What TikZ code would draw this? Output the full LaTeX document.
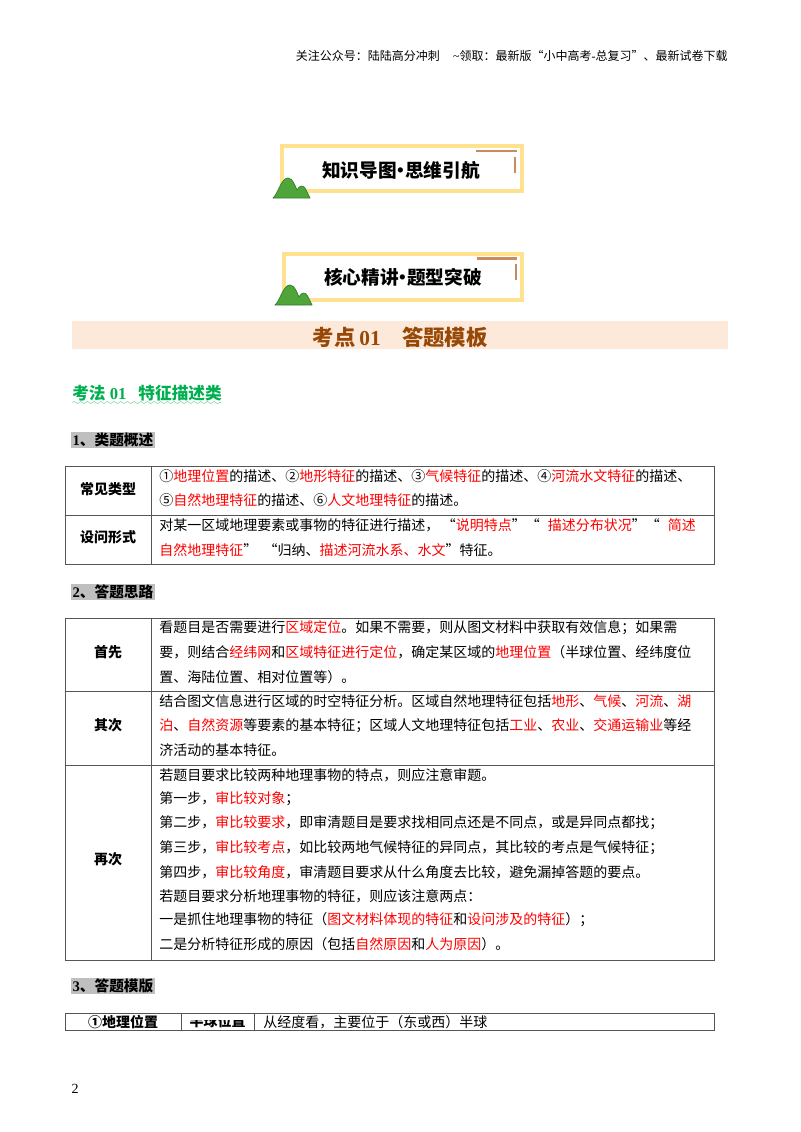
\documentclass[tikz,border=0pt]{standalone}
\usepackage{fontspec}
\usepackage{xcolor}
\setmainfont{Noto Sans CJK SC}
\newfontfamily\latfont{Liberation Serif}
\usetikzlibrary{decorations.pathmorphing}
\definecolor{bannerline}{HTML}{FFE28F}
\definecolor{banneraccent}{HTML}{C98A5E}
\definecolor{hillgreen}{HTML}{4FA53A}
\definecolor{hilldark}{HTML}{2F7D2A}
\definecolor{bandfill}{HTML}{FDE9D9}
\definecolor{bandtext}{HTML}{984806}
\definecolor{headgreen}{HTML}{00B050}
\definecolor{tableline}{HTML}{555555}
\newcommand{\hl}[1]{\textcolor{red}{#1}}
\newcommand{\fsize}[1]{\fontsize{#1}{#1}\selectfont}
\newcommand{\tightdot}{\kern-0.27em·\kern-0.27em}
\newcommand{\hillpair}[2]{%
        \begin{scope}[shift={(#1,#2)}]
            \fill[hillgreen, draw=hilldark, line width=0.5pt] (0,0) .. controls (5,-4) and (8,-20) .. (15,-20)
                .. controls (20,-20) and (22,-12) .. (24,-8)
                .. controls (26,-11) and (27,-12) .. (29,-12)
                .. controls (32,-12) and (34,-6) .. (37,0) -- cycle;
        \end{scope}}
\tikzset{
        rowtext/.style={anchor=west, inner sep=0pt, font=\fsize{10.5}},
        rowhead/.style={inner sep=0pt, font=\fsize{10.5}\bfseries},
        sechead/.style={anchor=west, inner sep=1pt, fill=black!25, font=\fsize{11}\bfseries},
        tablerule/.style={draw=tableline, line width=0.7pt},
        bannerbox/.style={draw=bannerline, line width=3pt, fill=white},
        bannertext/.style={inner sep=0pt, font=\fsize{14}\bfseries},
        accent/.style={draw=banneraccent, line width=2pt}
}
\begin{document}
\begin{tikzpicture}[x=0.75pt, y=-0.75pt]
        \useasboundingbox (0,0) rectangle (800,1132);

        % page header and number
        \node[anchor=east, inner sep=0pt, font=\fsize{9}] (pagehead) at (728,56) {关注公众号：陆陆高分冲刺\hspace{10pt}{\latfont\char`\~}领取：最新版“小中高考{\latfont -}总复习”、最新试卷下载};
        \node[inner sep=0pt, font=\latfont\fsize{10.5}] (pagenum) at (75,1089) {2};

        % banners
        \draw[bannerbox] (282,146) rectangle (522,191);
        \draw[accent] (476,151) -- (517,151);
        \draw[accent] (515,157) -- (515,173);
        \hillpair{273}{198}
        \node[bannertext] (bannerone) at (401,170) {知识导图\tightdot 思维引航};

        \draw[bannerbox] (284,254) rectangle (522,300);
        \draw[accent] (477,258.5) -- (517,258.5);
        \draw[accent] (516,264) -- (516,280);
        \hillpair{275}{305}
        \node[bannertext] (bannertwo) at (403,277) {核心精讲\tightdot 题型突破};

        % title band
        \fill[bandfill] (72,321) rectangle (728,349);
        \node[inner sep=0pt, text=bandtext, font=\fsize{16}\bfseries] (bandtitle) at (400,337) {考点\hspace{3pt}{\latfont 01}\hspace{16pt}答题模板};

        \node[anchor=west, inner sep=0pt, text=headgreen, font=\fsize{12.5}\bfseries] (kaofa) at (72,393) {考法{\latfont\ 01}\hspace{9pt}特征描述类};
        \draw[headgreen!50, decorate, decoration={snake, amplitude=0.8pt, segment length=5pt}] (72,402.5) -- (221,402.5);

        % overview table
        \node[sechead] (secone) at (71,440) {{\latfont 1}、类题概述};
        \draw[tablerule] (65,466) rectangle (714,564);
        \draw[tablerule] (65,515) -- (714,515);
        \draw[tablerule] (151,466) -- (151,564);
        \node[rowhead] (typehead) at (108,489) {常见类型};
        \node[rowhead] (askhead) at (108,537) {设问形式};
        \node[rowtext] (typea) at (159,476) {①\hl{地理位置}的描述、②\hl{地形特征}的描述、③\hl{气候特征}的描述、④\hl{河流水文特征}的描述、};
        \node[rowtext] (typeb) at (159,500) {⑤\hl{自然地理特征}的描述、⑥\hl{人文地理特征}的描述。};
        \node[rowtext] (aska) at (159,525) {对某一区域地理要素或事物的特征进行描述，\hspace{2pt}“\hl{说明特点}”“\hspace{6pt}\hl{描述分布状况}”“\hspace{6pt}\hl{简述}};
        \node[rowtext] (askb) at (159,550) {\hl{自然地理特征}”\ \ “归纳、\hl{描述河流水系、水文}”特征。};

        % steps table
        \node[sechead] (sectwo) at (71,592) {{\latfont 2}、答题思路};
        \draw[tablerule] (65,618) rectangle (714,960);
        \draw[tablerule] (65,691) -- (714,691);
        \draw[tablerule] (65,765) -- (714,765);
        \draw[tablerule] (151,618) -- (151,960);
        \node[rowhead] (firsthead) at (108,652) {首先};
        \node[rowhead] (nexthead) at (108,725) {其次};
        \node[rowhead] (thenhead) at (108,859) {再次};
        \node[rowtext] (firsta) at (159,628) {看题目是否需要进行\hl{区域定位}。如果不需要，则从图文材料中获取有效信息；如果需};
        \node[rowtext] (firstb) at (159,652) {要，则结合\hl{经纬网}和\hl{区域特征进行定位}，确定某区域的\hl{地理位置}（半球位置、经纬度位};
        \node[rowtext] (firstc) at (159,677) {置、海陆位置、相对位置等）。};
        \node[rowtext] (nexta) at (159,701) {结合图文信息进行区域的时空特征分析。区域自然地理特征包括\hl{地形}、\hl{气候}、\hl{河流}、\hl{湖}};
        \node[rowtext] (nextb) at (159,726) {\hl{泊}、\hl{自然资源}等要素的基本特征；区域人文地理特征包括\hl{工业}、\hl{农业}、\hl{交通运输业}等经};
        \node[rowtext] (nextc) at (159,750) {济活动的基本特征。};
        \node[rowtext] (thena) at (159,775) {若题目要求比较两种地理事物的特点，则应注意审题。};
        \node[rowtext] (thenb) at (159,799) {第一步，\hl{审比较对象}；};
        \node[rowtext] (thenc) at (159,823) {第二步，\hl{审比较要求}，即审清题目是要求找相同点还是不同点，或是异同点都找；};
        \node[rowtext] (thend) at (159,848) {第三步，\hl{审比较考点}，如比较两地气候特征的异同点，其比较的考点是气候特征；};
        \node[rowtext] (thene) at (159,872) {第四步，\hl{审比较角度}，审清题目要求从什么角度去比较，避免漏掉答题的要点。};
        \node[rowtext] (thenf) at (159,896) {若题目要求分析地理事物的特征，则应该注意两点：};
        \node[rowtext] (theng) at (159,920) {一是抓住地理事物的特征（\hl{图文材料体现的特征}和\hl{设问涉及的特征}）；};
        \node[rowtext] (thenh) at (159,944) {二是分析特征形成的原因（包括\hl{自然原因}和\hl{人为原因}）。};

        % template table
        \node[sechead] (secthree) at (71,986) {{\latfont 3}、答题模版};
        \draw[tablerule] (65,1013) rectangle (714,1030);
        \draw[tablerule] (181,1013) -- (181,1030);
        \draw[tablerule] (254,1013) -- (254,1030);
        \node[rowhead] (geohead) at (123,1022) {①地理位置};
        \begin{scope}
            \clip (182,1020) rectangle (253,1029);
            \node[rowhead] (geosub) at (217.5,1021) {半球位置};
        \end{scope}
        \node[rowtext] (geotext) at (263,1022) {从经度看，主要位于（东或西）半球};
\end{tikzpicture}
\end{document}
